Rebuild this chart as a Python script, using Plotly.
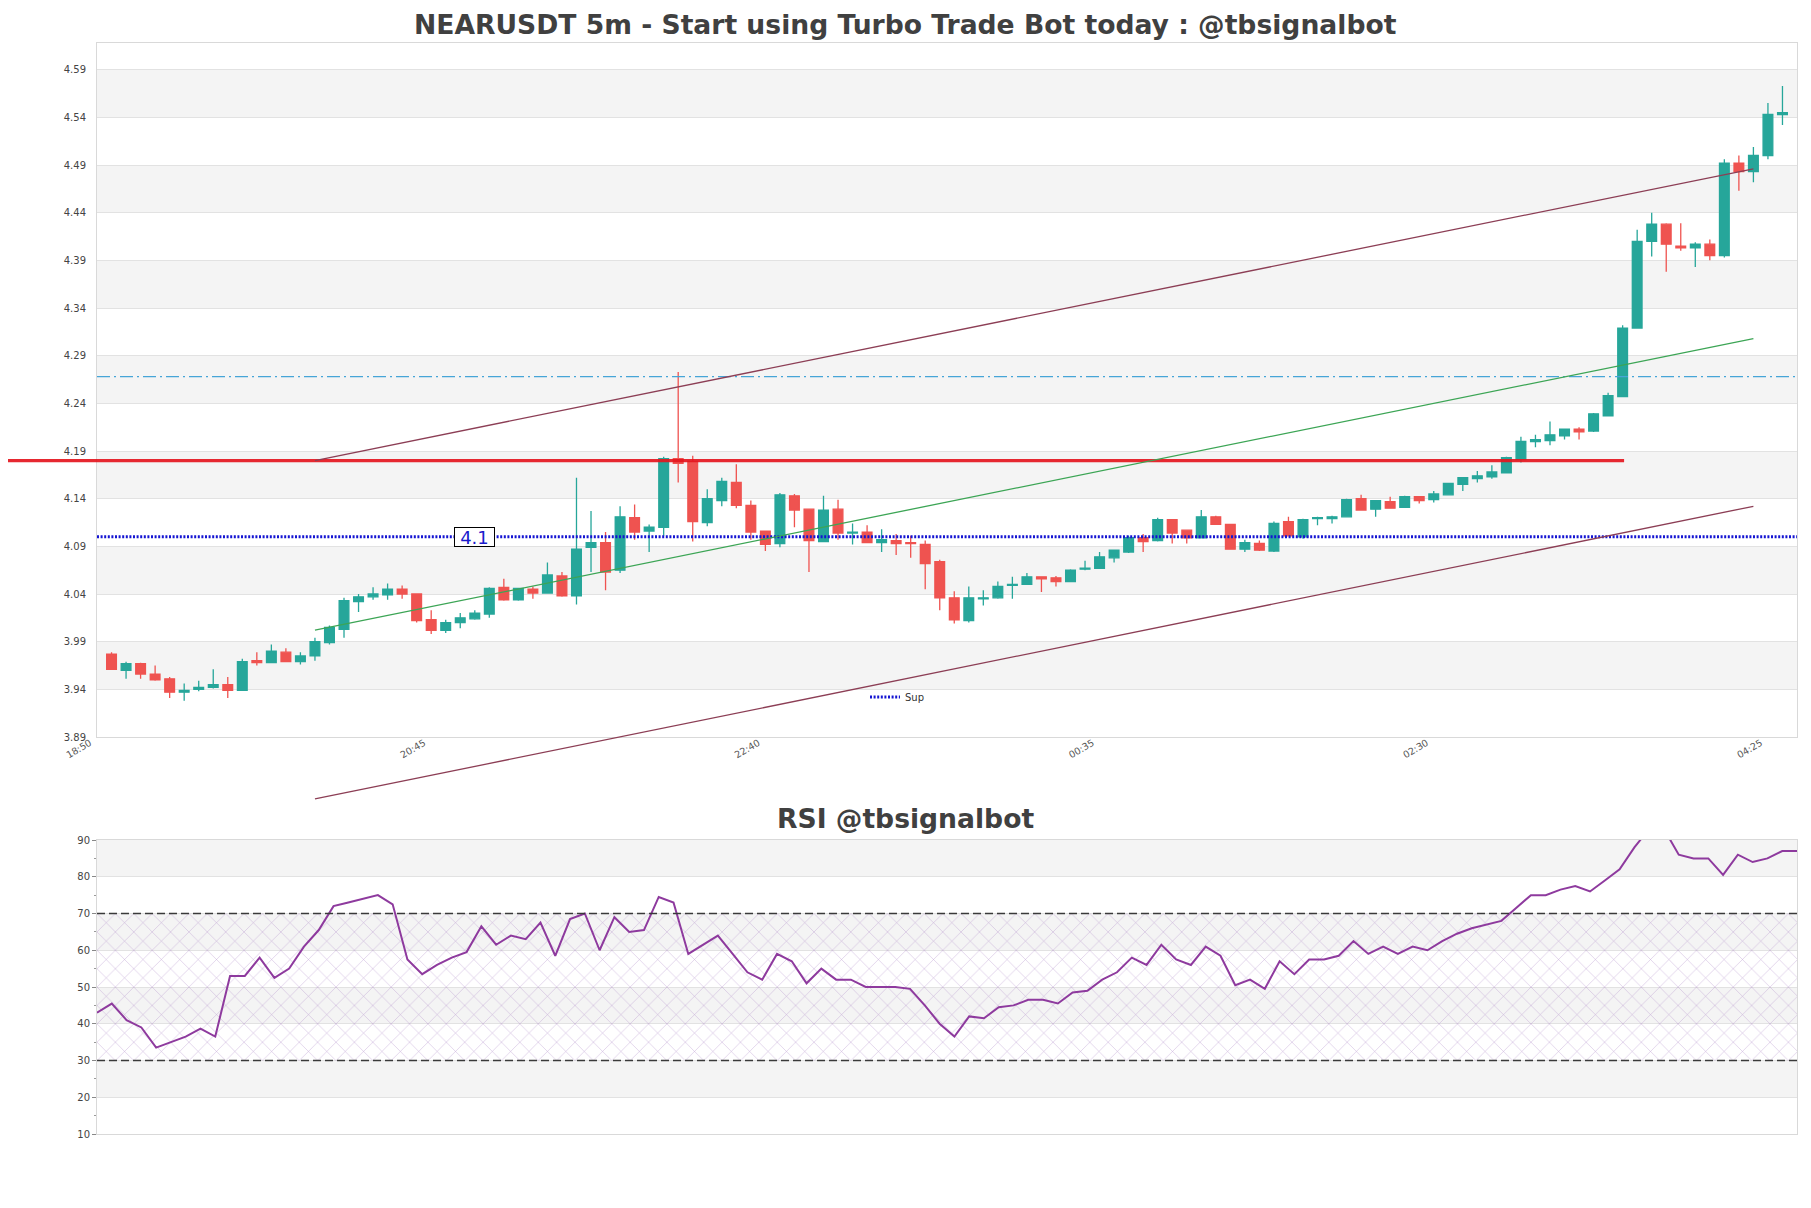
import plotly.graph_objects as go

# page has an 8px body margin, so the figure is a bit smaller than the window
OFF = 8
W, H = 1811 - 2 * OFF, 1208 - 2 * OFF

# ---- candles, 5m bars ----
opens = [3.977, 3.960, 3.967, 3.956, 3.951, 3.937, 3.940, 3.942, 3.945, 3.939,
         3.970, 3.968, 3.979, 3.969, 3.975, 3.989, 4.003, 4.032, 4.037, 4.039,
         4.045, 4.040, 4.013, 4.002, 4.010, 4.014, 4.019, 4.047, 4.034, 4.045,
         4.041, 4.059, 4.038, 4.089, 4.094, 4.065, 4.120, 4.106, 4.110, 4.182,
         4.179, 4.115, 4.138, 4.157, 4.133, 4.106, 4.093, 4.143, 4.129, 4.095,
         4.129, 4.104, 4.105, 4.094, 4.096, 4.094, 4.092, 4.074, 4.036, 4.012,
         4.035, 4.036, 4.049, 4.050, 4.058, 4.057, 4.053, 4.066, 4.067, 4.078,
         4.084, 4.099, 4.096, 4.118, 4.107, 4.099, 4.121, 4.113, 4.087, 4.093,
         4.085, 4.116, 4.100, 4.119, 4.119, 4.121, 4.140, 4.129, 4.137, 4.131,
         4.142, 4.139, 4.144, 4.155, 4.161, 4.163, 4.167, 4.181, 4.200, 4.201,
         4.206, 4.213, 4.211, 4.227, 4.247, 4.319, 4.410, 4.428, 4.405, 4.403,
         4.407, 4.395, 4.492, 4.483, 4.500, 4.543]
highs = [3.979, 3.969, 3.968, 3.965, 3.953, 3.946, 3.949, 3.961, 3.953, 3.972,
         3.979, 3.987, 3.983, 3.979, 3.994, 4.007, 4.036, 4.040, 4.047, 4.051,
         4.049, 4.040, 4.023, 4.013, 4.020, 4.023, 4.047, 4.056, 4.046, 4.048,
         4.073, 4.063, 4.162, 4.127, 4.105, 4.132, 4.134, 4.113, 4.184, 4.273,
         4.185, 4.150, 4.162, 4.176, 4.138, 4.106, 4.146, 4.145, 4.129, 4.143,
         4.139, 4.114, 4.112, 4.108, 4.103, 4.101, 4.096, 4.076, 4.043, 4.048,
         4.044, 4.053, 4.058, 4.062, 4.058, 4.059, 4.066, 4.075, 4.084, 4.086,
         4.101, 4.103, 4.120, 4.118, 4.107, 4.128, 4.122, 4.113, 4.097, 4.096,
         4.116, 4.121, 4.119, 4.121, 4.122, 4.140, 4.144, 4.138, 4.142, 4.143,
         4.142, 4.148, 4.156, 4.162, 4.169, 4.175, 4.184, 4.205, 4.207, 4.221,
         4.213, 4.215, 4.230, 4.251, 4.322, 4.422, 4.440, 4.429, 4.429, 4.409,
         4.412, 4.496, 4.500, 4.509, 4.555, 4.573]
lows = [3.961, 3.951, 3.951, 3.949, 3.931, 3.928, 3.938, 3.941, 3.931, 3.939,
        3.965, 3.968, 3.969, 3.966, 3.970, 3.987, 3.994, 4.021, 4.034, 4.034,
        4.035, 4.010, 3.998, 3.999, 4.004, 4.013, 4.015, 4.033, 4.033, 4.035,
        4.041, 4.037, 4.029, 4.063, 4.044, 4.062, 4.097, 4.084, 4.101, 4.157,
        4.095, 4.111, 4.132, 4.130, 4.097, 4.085, 4.089, 4.110, 4.063, 4.095,
        4.097, 4.092, 4.094, 4.084, 4.081, 4.078, 4.045, 4.023, 4.009, 4.010,
        4.028, 4.035, 4.035, 4.050, 4.042, 4.048, 4.053, 4.065, 4.067, 4.073,
        4.083, 4.084, 4.095, 4.093, 4.093, 4.099, 4.113, 4.087, 4.084, 4.085,
        4.084, 4.101, 4.098, 4.112, 4.114, 4.121, 4.128, 4.121, 4.130, 4.131,
        4.135, 4.136, 4.144, 4.148, 4.157, 4.161, 4.167, 4.178, 4.194, 4.196,
        4.202, 4.202, 4.210, 4.227, 4.247, 4.319, 4.394, 4.378, 4.400, 4.383,
        4.390, 4.393, 4.463, 4.472, 4.496, 4.532]
closes = [3.961, 3.967, 3.956, 3.950, 3.937, 3.939, 3.942, 3.945, 3.939, 3.969,
          3.968, 3.980, 3.969, 3.975, 3.990, 4.005, 4.033, 4.037, 4.040, 4.045,
          4.040, 4.012, 4.002, 4.010, 4.015, 4.020, 4.046, 4.034, 4.046, 4.041,
          4.060, 4.038, 4.087, 4.094, 4.063, 4.121, 4.105, 4.110, 4.182, 4.177,
          4.116, 4.140, 4.158, 4.133, 4.105, 4.092, 4.144, 4.128, 4.096, 4.128,
          4.104, 4.105, 4.094, 4.097, 4.093, 4.093, 4.072, 4.036, 4.013, 4.036,
          4.036, 4.048, 4.050, 4.058, 4.056, 4.053, 4.065, 4.067, 4.079, 4.086,
          4.099, 4.095, 4.118, 4.104, 4.099, 4.121, 4.113, 4.087, 4.094, 4.086,
          4.114, 4.101, 4.118, 4.120, 4.121, 4.139, 4.128, 4.138, 4.130, 4.142,
          4.138, 4.145, 4.156, 4.162, 4.164, 4.168, 4.183, 4.200, 4.202, 4.207,
          4.213, 4.210, 4.229, 4.248, 4.319, 4.410, 4.428, 4.407, 4.403, 4.407,
          4.395, 4.492, 4.483, 4.500, 4.543, 4.545]

tick_pos = [0, 23, 46, 69, 92, 115]
tick_labels = ["18:50", "20:45", "22:40", "00:35", "02:30", "04:25"]

# ---- levels / trend lines ----
support = 4.1
support_label_x = 26
resistance = 4.18
resistance_span = [-6.2, 105.1]
dash_level = 4.268
channel_x = [15, 114]
channel_upper = [4.18, 4.486]
channel_mid = [4.002, 4.308]
channel_lower = [3.825, 4.132]

# ---- RSI, one value per candle ----
rsi = [43, 45.5, 41, 39, 33.5, 35, 36.5, 38.7, 36.5, 53,
       53, 58, 52.5, 55, 61, 65.5, 72, 73, 74, 75,
       72.5, 57.5, 53.5, 56, 58, 59.5, 66.5, 61.5, 64, 63,
       67.5, 58.5, 68.5, 70, 60, 69, 65, 65.5, 74.5, 73,
       59, 61.5, 64, 59, 54, 52, 59, 57, 51, 55,
       52, 52, 50, 50, 50, 49.5, 45, 40, 36.5, 42,
       41.5, 44.5, 45, 46.5, 46.5, 45.5, 48.5, 49, 52, 54,
       58, 56, 61.5, 57.5, 56, 61, 58.5, 50.5, 52, 49.5,
       57, 53.5, 57.5, 57.5, 58.5, 62.5, 59, 61, 59, 61,
       60, 62.5, 64.5, 66, 67, 68, 71.5, 75, 75, 76.5,
       77.5, 76, 79, 82, 88, 93, 93, 86, 85, 85,
       80.5, 86, 84, 85, 87, 87]
rsi_levels = [30, 70]

price_ticks = [round(3.89 + 0.05 * k, 2) for k in range(15)]
rsi_ticks = list(range(10, 100, 10))


def fx(px):
    # window pixel -> paper x
    return (px - OFF) / W


def fy(py):
    # window pixel -> paper y
    return 1 - (py - OFF) / H


# frame of the two panels, in window pixels
L, R = 97, 1797
MAIN_T, MAIN_B = 43, 737
RSI_T, RSI_B = 840, 1134
x_rng = [0, 117]
y_rng = [3.89, 4.618]

dx = [fx(L), fx(R)]
dy_main = [fy(MAIN_B), fy(MAIN_T)]
dy_rsi = [fy(RSI_B), fy(RSI_T)]

# invisible full-page axes with the same scale as the price panel,
# so the trend lines can run past the frame like in the original
sx = (x_rng[1] - x_rng[0]) / (dx[1] - dx[0])
sy = (y_rng[1] - y_rng[0]) / (dy_main[1] - dy_main[0])
x_full = [x_rng[0] - dx[0] * sx, x_rng[1] + (1 - dx[1]) * sx]
y_full = [y_rng[0] - dy_main[0] * sy, y_rng[1] + (1 - dy_main[1]) * sy]

TEAL = "#26a69a"
RED = "#ef5350"
FONT = "DejaVu Sans"

xs = list(range(1, len(opens) + 1))

fig = go.Figure()

fig.add_trace(go.Candlestick(
    x=xs, open=opens, high=highs, low=lows, close=closes,
    increasing=dict(line=dict(color=TEAL, width=1.3), fillcolor=TEAL),
    decreasing=dict(line=dict(color=RED, width=1.3), fillcolor=RED),
    whiskerwidth=0, showlegend=False, xaxis="x", yaxis="y",
))

fig.add_trace(go.Scatter(
    x=x_rng, y=[support, support], mode="lines", name="Sup",
    line=dict(color="rgb(20,20,210)", width=3, dash="2px,1.6px"),
    xaxis="x", yaxis="y",
))
fig.add_trace(go.Scatter(
    x=x_rng, y=[dash_level, dash_level], mode="lines", showlegend=False,
    line=dict(color="rgb(70,165,215)", width=1.3, dash="13px,4px,2px,4px"),
    xaxis="x", yaxis="y",
))

# lines on the full-page axes
fig.add_trace(go.Scatter(
    x=resistance_span, y=[resistance, resistance], mode="lines", showlegend=False,
    line=dict(color="rgba(228,22,30,0.92)", width=3.2), xaxis="x3", yaxis="y3",
))
for ys, col in [(channel_upper, "rgb(140,62,85)"), (channel_lower, "rgb(140,62,85)"),
                (channel_mid, "rgb(60,165,85)")]:
    fig.add_trace(go.Scatter(
        x=channel_x, y=ys, mode="lines", showlegend=False,
        line=dict(color=col, width=1.3), xaxis="x3", yaxis="y3",
    ))

# RSI panel
rx = list(range(len(rsi)))
fig.add_trace(go.Scatter(
    x=[rx[0], rx[-1], rx[-1], rx[0]],
    y=[rsi_levels[0], rsi_levels[0], rsi_levels[1], rsi_levels[1]],
    fill="toself", mode="lines", line=dict(width=0), showlegend=False,
    fillcolor="rgba(0,0,0,0)",
    fillpattern=dict(shape="x", fgcolor="rgba(170,130,195,0.7)", size=13, solidity=0.07),
    xaxis="x2", yaxis="y2", hoverinfo="skip",
))
fig.add_trace(go.Scatter(
    x=rx, y=rsi, mode="lines", showlegend=False,
    line=dict(color="#8e3a9e", width=2), xaxis="x2", yaxis="y2",
))

shapes = []
# alternating bands
for a, b in zip(price_ticks[1::2], price_ticks[2::2]):
    shapes.append(dict(type="rect", xref="x domain", yref="y", x0=0, x1=1, y0=a, y1=b,
                       fillcolor="#f4f4f4", line=dict(width=0), layer="below"))
for a in rsi_ticks[1::2]:
    shapes.append(dict(type="rect", xref="x2 domain", yref="y2", x0=0, x1=1, y0=a, y1=a + 10,
                       fillcolor="#f4f4f4", line=dict(width=0), layer="below"))
for lv in rsi_levels:
    shapes.append(dict(type="line", xref="x2 domain", yref="y2", x0=0, x1=1, y0=lv, y1=lv,
                       line=dict(color="#3a3a3a", width=1.3, dash="8px,4px")))

axis_common = dict(showline=True, mirror=True, linecolor="#d9d9d9", linewidth=1,
                   zeroline=False, automargin=False)

fig.update_layout(
    width=W, height=H,
    margin=dict(l=0, r=0, t=0, b=0),
    paper_bgcolor="white", plot_bgcolor="rgba(0,0,0,0)",
    template="none",
    font=dict(family=FONT, color="#444444", size=10),
    shapes=shapes,
    boxgap=0.33, boxgroupgap=0,
    xaxis=dict(domain=dx, range=x_rng, anchor="y", tickvals=tick_pos, ticktext=tick_labels,
               tickangle=-30, showgrid=False, ticks="", tickfont=dict(size=9.5, color="#555555"),
               ticklabelshift=-7, ticklabelstandoff=-4,
               rangeslider=dict(visible=False), **axis_common),
    yaxis=dict(domain=dy_main, range=y_rng, anchor="x", tickvals=price_ticks,
               ticktext=["%.2f" % v for v in price_ticks], showgrid=True, gridcolor="#e2e2e2",
               ticks="", ticklabelstandoff=8, tickfont=dict(size=10, color="#444444"),
               **axis_common),
    xaxis2=dict(domain=dx, range=[rx[0], rx[-1]], anchor="y2", showticklabels=False,
                showgrid=False, ticks="", **axis_common),
    yaxis2=dict(domain=dy_rsi, range=[10, 90], anchor="x2", tickvals=rsi_ticks,
                showgrid=True, gridcolor="#e2e2e2", ticks="outside", ticklen=4,
                tickcolor="#888888", tickfont=dict(size=10, color="#444444"),
                minor=dict(dtick=5, ticks="outside", ticklen=2, tickcolor="#999999", showgrid=False),
                **axis_common),
    xaxis3=dict(domain=[0, 1], range=x_full, anchor="y3", visible=False, fixedrange=True),
    yaxis3=dict(domain=[0, 1], range=y_full, anchor="x3", visible=False, fixedrange=True),
    legend=dict(x=fx(865), y=fy(697), xanchor="left", yanchor="middle",
                bgcolor="rgba(0,0,0,0)", font=dict(size=10, color="#333333")),
    annotations=[
        dict(text="NEARUSDT 5m - Start using Turbo Trade Bot today : @tbsignalbot",
             xref="paper", yref="paper", x=fx(905.5), y=fy(24.5), yanchor="middle",
             showarrow=False, font=dict(size=26.6, color="#404040", family=FONT, weight="bold")),
        dict(text="RSI @tbsignalbot", xref="paper", yref="paper", x=fx(905.5), y=fy(819),
             yanchor="middle", showarrow=False,
             font=dict(size=26.6, color="#404040", family=FONT, weight="bold")),
        dict(text="4.1", xref="x", yref="y", x=support_label_x, y=support, showarrow=False,
             font=dict(size=18, color="#1a1acc", family=FONT), bgcolor="white",
             bordercolor="black", borderwidth=1, borderpad=0, width=39, height=18),
    ],
)

fig.write_html("out.html")
